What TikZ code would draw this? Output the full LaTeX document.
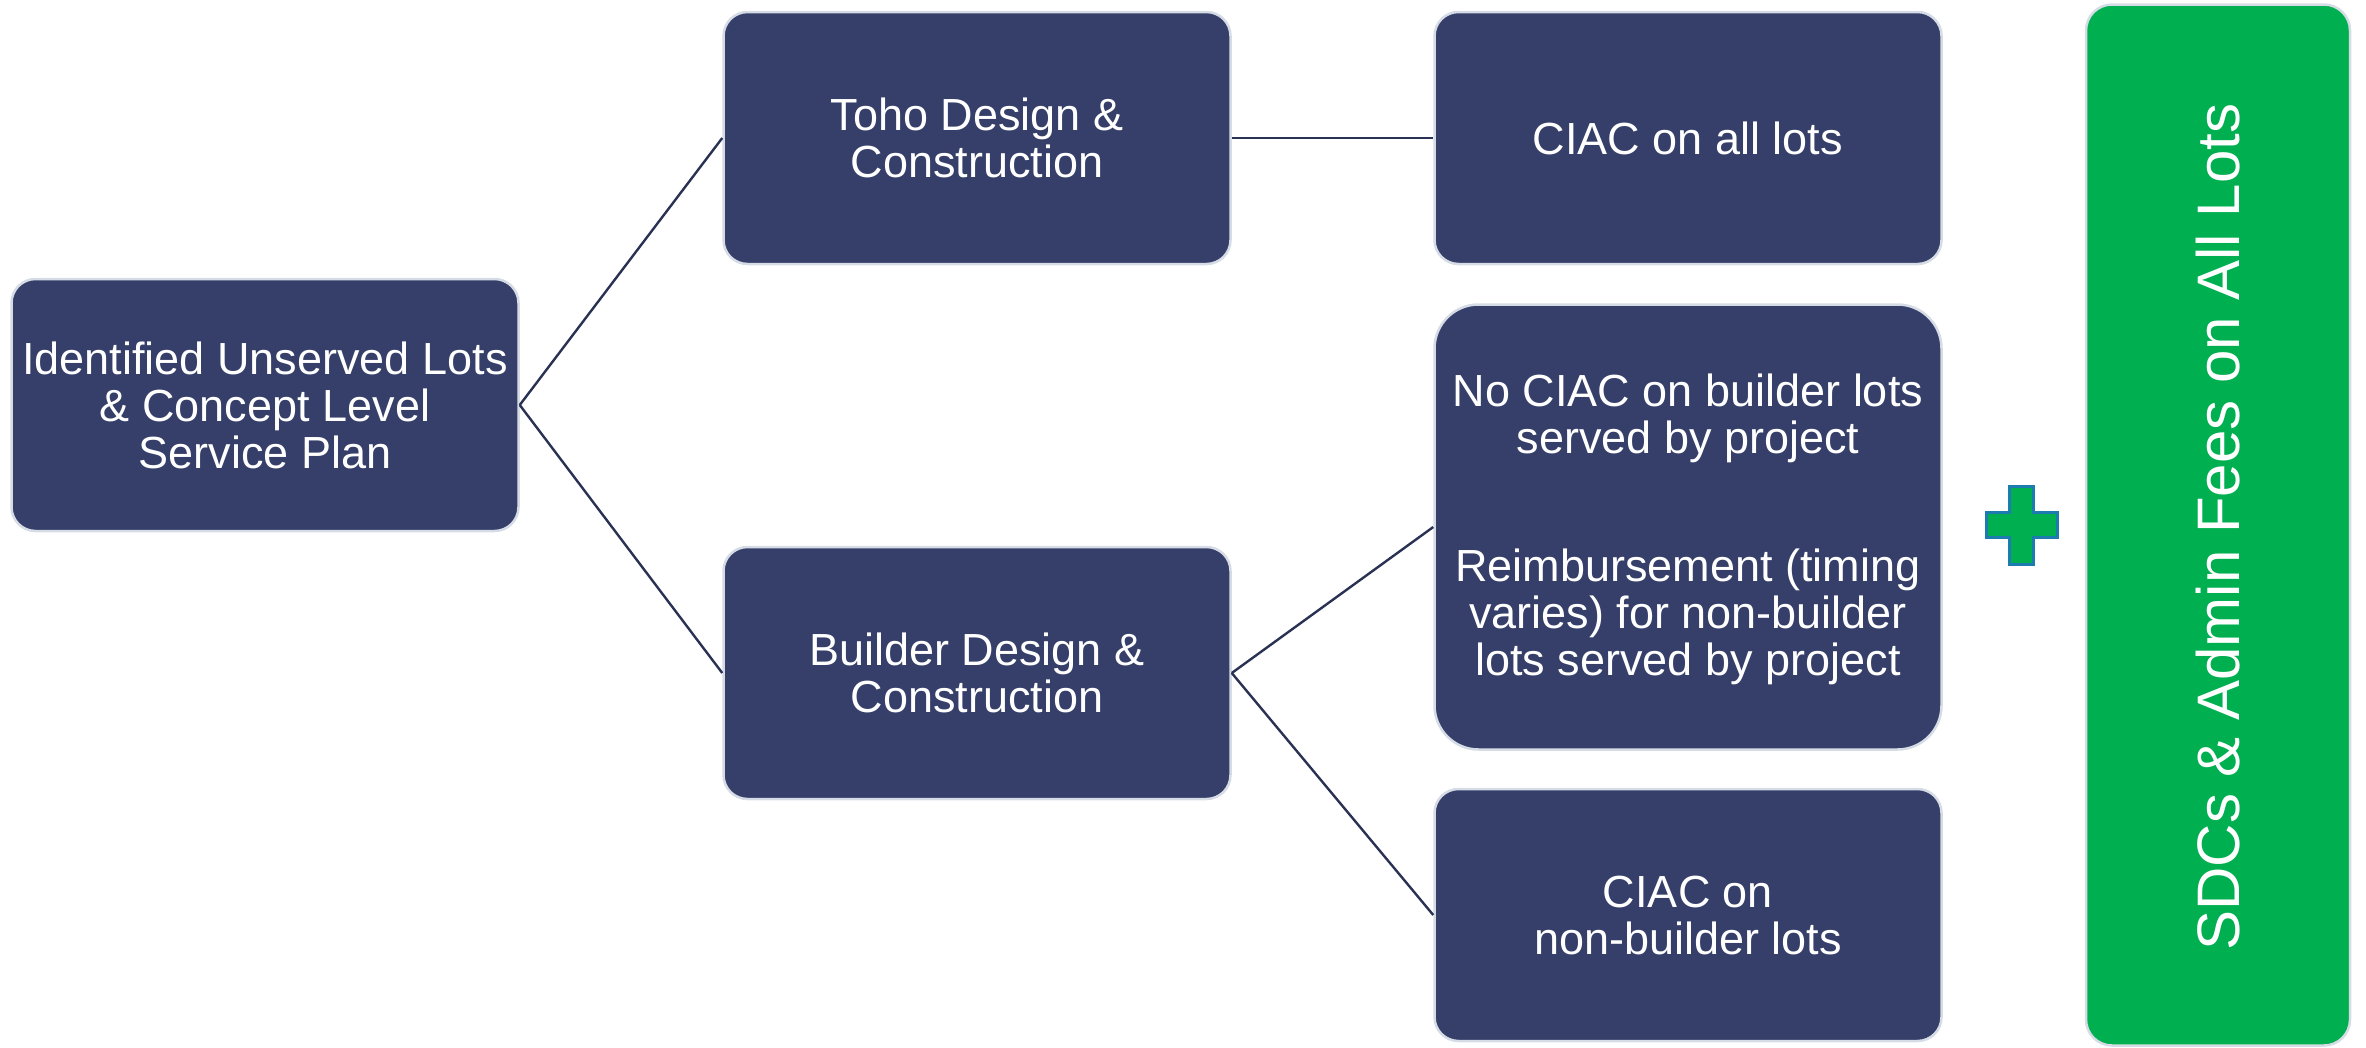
\documentclass[tikz,border=0pt]{standalone}
\usepackage{fontspec}
\setmainfont{Liberation Sans}
\definecolor{navy}{HTML}{353F69}
\definecolor{edgegray}{HTML}{D6DCE5}
\definecolor{linknavy}{HTML}{2A3254}
\definecolor{feegreen}{HTML}{00AF50}
\definecolor{plusblue}{HTML}{1C7CB0}
\begin{document}
\begin{tikzpicture}[x=1pt,y=-1pt,
  box/.style={draw=edgegray, line width=2.5pt, fill=navy, text=white,
    rounded corners=24pt, align=center, inner sep=0pt,
    minimum width=507pt, minimum height=252pt,
    font=\fontsize{45}{47}\selectfont},
  link/.style={draw=linknavy, line width=2.4pt}]
\useasboundingbox (0,0) rectangle (2366,1047);

% decision tree boxes
\node[box] (root) at (265,405) {Identified Unserved Lots\\ \& Concept Level\\ Service Plan};
\node[box] (toho) at (977,138) {Toho Design \&\\ Construction};
\node[box] (ciacall) at (1688,138) {CIAC on all lots};
\node[box] (builder) at (977,673) {Builder Design \&\\ Construction};
\node[box, minimum height=445pt, rounded corners=44pt] (nociac) at (1688,527)
  {};
\node[text=white, align=center, inner sep=0pt, font=\fontsize{45}{47}\selectfont]
  (nociactext) at (1688,529)
  {No CIAC on builder lots\\ served by project\\[81pt]Reimbursement (timing\\ varies) for non-builder\\ lots served by project};
\node[box] (ciacnb) at (1688,915) {CIAC on\\ non-builder lots};

% fee bar on the right
\node[box, fill=feegreen, minimum width=264pt, minimum height=1041pt, rounded corners=26pt]
  (fees) at (2218,525) {};
\node[rotate=90, text=white, font=\fontsize{60}{62}\selectfont] (feetext) at (2218,527)
  {SDCs \& Admin Fees on All Lots};

% plus sign
\draw[fill=feegreen, draw=plusblue, line width=3pt]
  (2009,486) -- (2033,486) -- (2033,512) -- (2057,512) -- (2057,537) -- (2033,537)
  -- (2033,564) -- (2009,564) -- (2009,537) -- (1986,537) -- (1986,512) -- (2009,512) -- cycle;

% connectors
\draw[link] (root.east) -- (toho.west);
\draw[link] (root.east) -- (builder.west);
\draw[link] (toho.east) -- (ciacall.west);
\draw[link] (builder.east) -- (nociac.west);
\draw[link] (builder.east) -- (ciacnb.west);
\end{tikzpicture}
\end{document}
